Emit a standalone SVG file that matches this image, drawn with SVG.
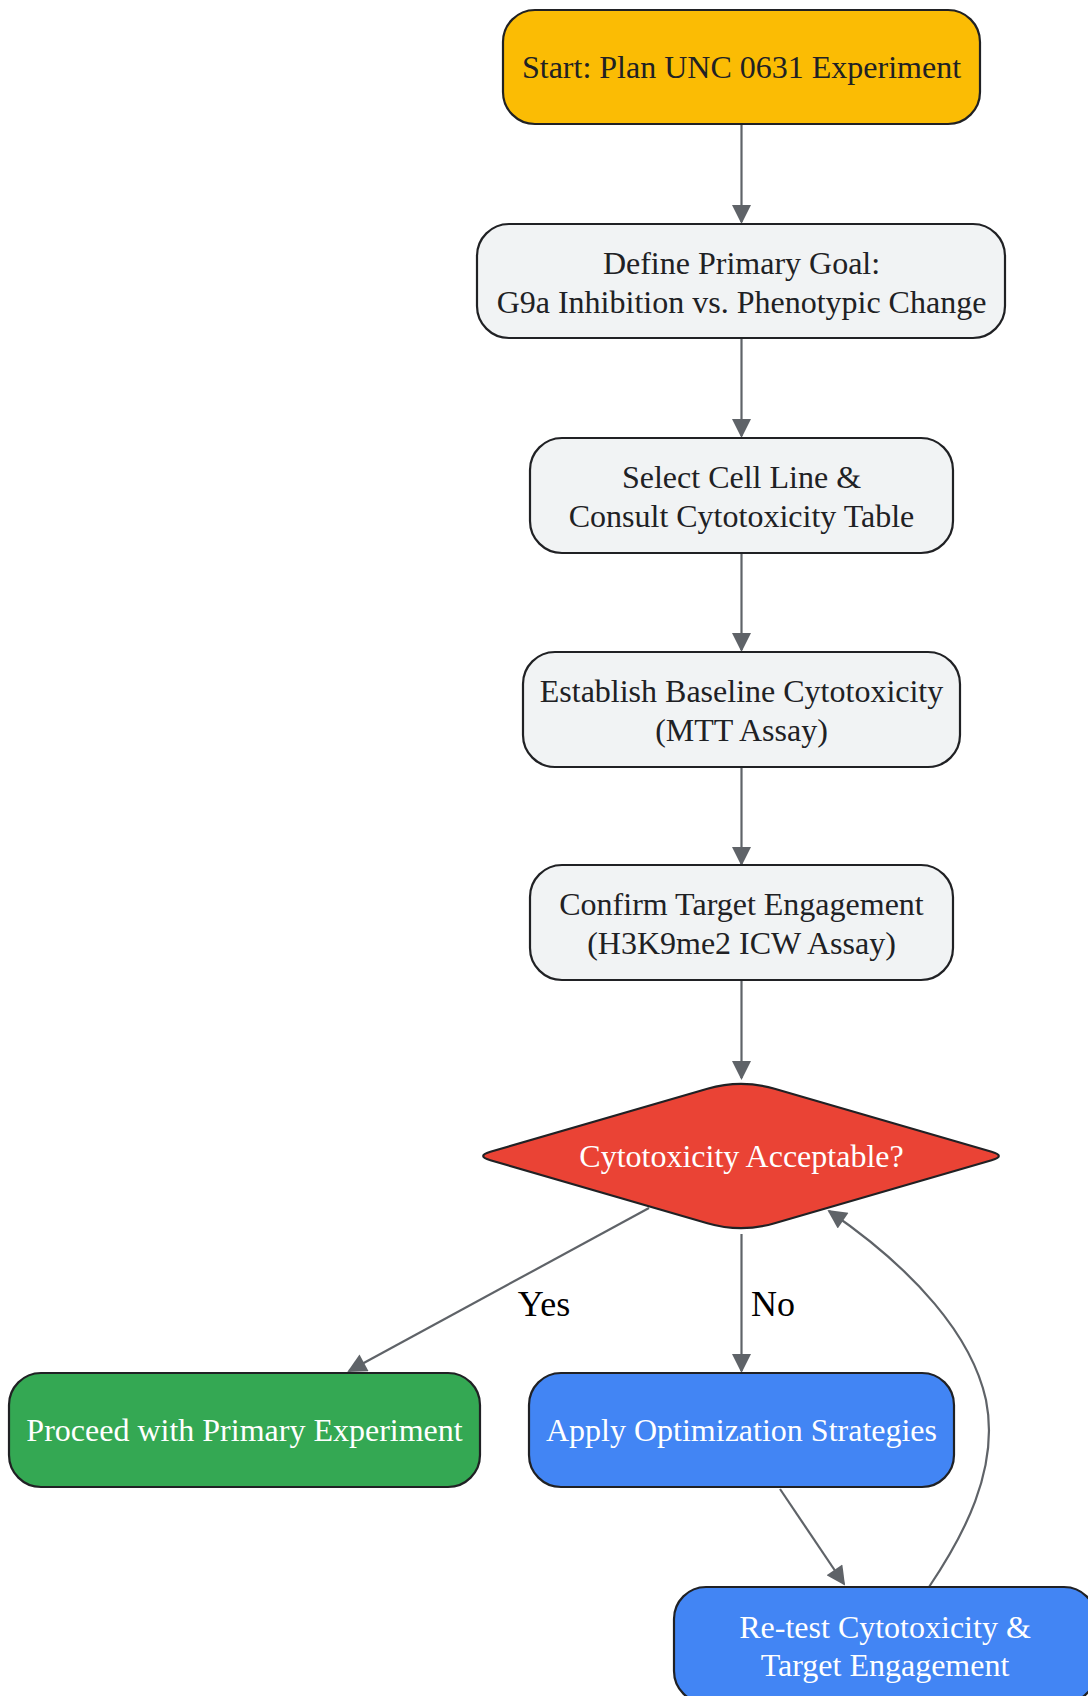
<svg xmlns="http://www.w3.org/2000/svg" width="1088" height="1696" viewBox="0 0 1088 1696">
<style>
.node rect,.node path{stroke:#202124;stroke-width:2.2}
.neutral{fill:#F1F3F4}
.t{font-family:"Liberation Serif","Times New Roman",serif;font-size:32px;text-anchor:middle}
.dark{fill:#202124}
.light{fill:#FFFFFF}
.edge{fill:none;stroke:#5F6368;stroke-width:2.2}
.lbl{font-family:"Liberation Serif","Times New Roman",serif;font-size:36px;fill:#000000}
</style>
<defs>
<marker id="arr" viewBox="0 0 10 10" refX="9" refY="5" markerUnits="userSpaceOnUse" markerWidth="24" markerHeight="19" orient="auto">
<path d="M0,0 L10,5 L0,10 z" fill="#5F6368"/>
</marker>
</defs>
<rect width="1088" height="1696" fill="#FFFFFF"/>
<g id="edges">
<line class="edge" x1="741.5" y1="124" x2="741.5" y2="222" marker-end="url(#arr)"/>
<line class="edge" x1="741.5" y1="338" x2="741.5" y2="436" marker-end="url(#arr)"/>
<line class="edge" x1="741.5" y1="553" x2="741.5" y2="650" marker-end="url(#arr)"/>
<line class="edge" x1="741.5" y1="767" x2="741.5" y2="864" marker-end="url(#arr)"/>
<line class="edge" x1="741.5" y1="980" x2="741.5" y2="1078" marker-end="url(#arr)"/>
<line class="edge" x1="649" y1="1208" x2="349" y2="1371" marker-end="url(#arr)"/>
<line class="edge" x1="741.5" y1="1234" x2="741.5" y2="1371" marker-end="url(#arr)"/>
<line class="edge" x1="780" y1="1489" x2="844" y2="1584" marker-end="url(#arr)"/>
<path class="edge" d="M929,1587 C962,1538 1000,1470 986,1400 C972,1336 915,1270 829,1211" marker-end="url(#arr)"/>
<text class="lbl" x="544" y="1316" text-anchor="middle">Yes</text>
<text class="lbl" x="751" y="1316">No</text>
</g>
<g id="start" class="node">
<rect x="503" y="10" width="477" height="114" rx="32" fill="#FBBC04"/>
<text class="t dark" x="741.5" y="78">Start: Plan UNC 0631 Experiment</text>
</g>
<g id="define" class="node">
<rect class="neutral" x="477" y="224" width="528" height="114" rx="32"/>
<text class="t dark" x="741.5" y="274">Define Primary Goal:</text>
<text class="t dark" x="741.5" y="313">G9a Inhibition vs. Phenotypic Change</text>
</g>
<g id="select" class="node">
<rect class="neutral" x="530" y="438" width="423" height="115" rx="32"/>
<text class="t dark" x="741.5" y="488">Select Cell Line &amp;</text>
<text class="t dark" x="741.5" y="527">Consult Cytotoxicity Table</text>
</g>
<g id="establish" class="node">
<rect class="neutral" x="523" y="652" width="437" height="115" rx="32"/>
<text class="t dark" x="741.5" y="702">Establish Baseline Cytotoxicity</text>
<text class="t dark" x="741.5" y="741">(MTT Assay)</text>
</g>
<g id="confirm" class="node">
<rect class="neutral" x="530" y="865" width="423" height="115" rx="32"/>
<text class="t dark" x="741.5" y="915">Confirm Target Engagement</text>
<text class="t dark" x="741.5" y="954">(H3K9me2 ICW Assay)</text>
</g>
<g id="decision" class="node">
<path d="M707.4,1088.8 Q741,1079 774.6,1088.8 L991.6,1151.8 Q1006,1156 991.6,1160.2 L774.6,1223.2 Q741,1233 707.4,1223.2 L490.4,1160.2 Q476,1156 490.4,1151.8 Z" fill="#EA4335"/>
<text class="t light" x="741.5" y="1167">Cytotoxicity Acceptable?</text>
</g>
<g id="proceed" class="node">
<rect x="9" y="1373" width="471" height="114" rx="32" fill="#34A853"/>
<text class="t light" x="244.5" y="1441">Proceed with Primary Experiment</text>
</g>
<g id="apply" class="node">
<rect x="529" y="1373" width="425" height="114" rx="32" fill="#4285F4"/>
<text class="t light" x="741.5" y="1441">Apply Optimization Strategies</text>
</g>
<g id="retest" class="node">
<rect x="674" y="1587" width="422" height="116" rx="32" fill="#4285F4"/>
<text class="t light" x="885" y="1638">Re-test Cytotoxicity &amp;</text>
<text class="t light" x="885" y="1676">Target Engagement</text>
</g>
</svg>
